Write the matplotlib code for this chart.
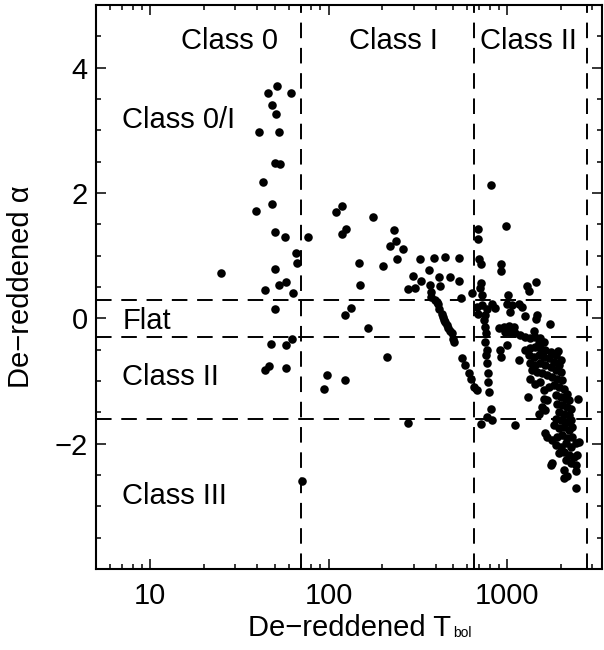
import matplotlib
matplotlib.use("Agg")
import matplotlib.pyplot as plt
from matplotlib.ticker import FixedLocator, FixedFormatter, LogLocator, NullFormatter, MultipleLocator

plt.rcParams['font.family'] = ['Liberation Sans', 'DejaVu Sans']

# ---------------- data ----------------
# Class 0 region
t_c0 = [25, 39, 41, 43, 44, 44, 46.5, 46, 48, 48, 47.5, 50, 50, 50, 51, 50, 51.5, 52.5,
        53.5, 53, 57, 57.5, 57.5, 57.5, 62, 62.5, 63.5, 66, 67, 71, 77]
a_c0 = [0.73, 1.71, 2.98, 2.17, 0.46, -0.82, -0.76, 3.60, 1.82, 3.41, -0.41, 1.38, 0.15, 0.78,
        3.26, 2.48, 3.71, 2.97, 2.47, 0.54, 1.30, 0.58, -0.43, -0.79, 3.59, -0.33, 0.40, 1.05,
        0.88, -2.60, 1.30]

# Class I region
t_c1 = [94, 98.5, 110, 119, 119, 126, 123, 123, 133, 148, 150, 166, 178, 203, 213, 221, 233,
        238, 241, 261, 277, 279, 296, 304, 325, 330, 365, 370, 389, 413, 419, 450, 480, 538,
        538, 552]
a_c1 = [-1.13, -0.91, 1.70, 1.79, 1.34, 1.42, 0.05, -0.98, 0.17, 0.88, 0.54, -0.15, 1.62, 0.83,
        -0.61, 1.15, 1.41, 1.23, 0.95, 1.11, -1.67, 0.47, 0.68, 0.48, 0.95, 0.60, 0.77, 0.54,
        0.96, 0.66, 0.52, 0.98, 0.66, 0.97, 0.60, 0.33]

# descending branch
t_br = [374, 377, 394, 403, 411, 417, 430, 439, 443, 448, 458, 468, 479, 489, 499, 507, 556,
        581, 612, 628, 656, 676]
a_br = [0.42, 0.34, 0.29, 0.26, 0.23, 0.15, 0.07, 0.02, -0.02, -0.06, -0.11, -0.16, -0.20,
        -0.24, -0.33, -0.37, -0.64, -0.75, -0.88, -0.96, -1.09, -1.15]

# upper points right of 650 K
t_up = [684, 684, 700, 714, 714, 708, 634, 721, 811, 989, 927, 927, 1009, 1291, 1321, 1459]
a_up = [1.43, 1.26, 0.95, 0.87, 0.56, 0.49, 0.41, 0.38, 2.12, 1.47, 0.87, 0.75, 0.38, 0.51,
        0.44, 0.58]

# Class II cluster
t_c2 = [676, 721, 770, 753, 691, 858, 821, 998, 1064, 1160, 1212, 1041, 1265, 1472, 1453, 1728,
        747, 753, 760, 753, 770, 760, 770, 780, 786, 793, 814, 770, 821, 715,
        915, 927, 1160, 998, 1102, 1304, 2506, 1933,
        895, 955, 1019, 1088, 976, 1041, 1111, 1186, 1265, 1350, 1441, 1410, 1537, 1605, 1504,
        1265, 1350, 1441, 1537, 1640, 1750, 1867, 1993, 1321, 1410, 1504, 1605, 1713, 1827,
        1950, 1350, 1441, 1537, 1640, 1750, 1867, 1993, 1380, 1472, 1571, 1676, 1788, 1908,
        2036, 1350, 1441, 1537, 1605, 1713, 1827, 1950, 2081, 2173,
        1605, 1676, 1571, 1640, 1504, 1867, 1993, 2126, 2220, 1908, 2036, 2173, 2269, 1950,
        2081, 2220, 1867, 1993, 2126, 2269, 1827, 1950, 2081, 2220, 2318, 1640, 1676, 1788,
        1908, 2036, 2173, 2318, 1867, 1993, 2126, 2269, 2420, 2528, 1950, 2081, 2220, 2368,
        2473, 2126, 2269, 2420, 1788, 1750, 2081, 2173, 2081, 2441, 2420]
a_c2 = [0.18, 0.21, 0.15, 0.05, 0.07, 0.17, 0.23, 0.23, 0.21, 0.23, 0.18, 0.10, 0.03, 0.06, -0.01, -0.09,
        -0.03, -0.14, -0.24, -0.38, -0.51, -0.59, -0.72, -0.88, -1.01, -1.17, -1.44, -1.57, -1.62, -1.69,
        -0.51, -0.62, -0.67, -0.43, -1.70, -1.26, -1.28, -0.52,
        -0.16, -0.14, -0.13, -0.14, -0.22, -0.22, -0.24, -0.27, -0.30, -0.31, -0.29, -0.20, -0.32, -0.38, -0.40,
        -0.51, -0.48, -0.46, -0.48, -0.51, -0.54, -0.59, -0.67, -0.59, -0.62, -0.59, -0.62, -0.64, -0.69,
        -0.75, -0.72, -0.75, -0.72, -0.75, -0.77, -0.83, -0.85, -0.83, -0.85, -0.88, -0.91, -0.93, -0.96,
        -0.99, -0.96, -1.04, -1.01, -1.15, -1.09, -1.07, -1.09, -1.12, -1.20,
        -1.28, -1.30, -1.41, -1.46, -1.52, -1.22, -1.25, -1.28, -1.30, -1.36, -1.38, -1.41, -1.44, -1.49,
        -1.52, -1.54, -1.60, -1.62, -1.65, -1.62, -1.70, -1.75, -1.73, -1.78, -1.73, -1.83, -1.89, -1.94,
        -1.89, -1.86, -1.91, -1.89, -2.02, -2.05, -1.99, -2.05, -1.99, -1.97, -2.15, -2.13, -2.18, -2.21,
        -2.18, -2.26, -2.31, -2.34, -2.31, -2.34, -2.42, -2.52, -2.55, -2.71, -2.44]

tbol = t_c0 + t_c1 + t_br + t_up + t_c2
alpha = a_c0 + a_c1 + a_br + a_up + a_c2

# class boundaries
tbol_bounds = [70, 650, 2800]
alpha_bounds = [0.3, -0.3, -1.6]

x_ticks = [10, 100, 1000]
x_ticklabels = ['10', '100', '1000']
y_ticks = [-2, 0, 2, 4]
y_ticklabels = ['\u22122', '0', '2', '4']

top_labels = ['Class 0', 'Class I', 'Class II']
top_label_t = [28, 230, 1320]
side_labels = ['Class 0/I', 'Flat', 'Class II', 'Class III']
side_label_a = [3.16, -0.05, -0.94, -2.84]

# ---------------- plot ----------------
fig = plt.figure(figsize=(6.04, 6.5), dpi=100)
ax = fig.add_axes([0.1593, 0.1246, 0.8374, 0.8677])

ax.set_xscale('log')
ax.set_xlim(5, 3400)
ax.set_ylim(-4, 5)

dash = (0, (8, 5))
for tb in tbol_bounds:
    ax.axvline(tb, color='black', lw=1.4, ls=dash, zorder=1)
for ab in alpha_bounds:
    ax.axhline(ab, color='black', lw=1.4, ls=dash, zorder=1)

ax.scatter(tbol, alpha, s=38, c='black', linewidths=0, zorder=3)

fs = 21
for lab, t in zip(top_labels, top_label_t):
    ax.text(t, 4.42, lab, ha='center', va='center', fontsize=fs)
for lab, a in zip(side_labels, side_label_a):
    ax.text(7.0, a, lab, ha='left', va='center', fontsize=fs)

ax.xaxis.set_major_locator(FixedLocator(x_ticks))
ax.xaxis.set_major_formatter(FixedFormatter(x_ticklabels))
ax.xaxis.set_minor_locator(LogLocator(base=10, subs=range(2, 10)))
ax.xaxis.set_minor_formatter(NullFormatter())
ax.yaxis.set_major_locator(FixedLocator(y_ticks))
ax.yaxis.set_major_formatter(FixedFormatter(y_ticklabels))
ax.yaxis.set_minor_locator(MultipleLocator(0.5))

ax.tick_params(which='both', direction='in', top=True, right=True, width=1.1)
ax.tick_params(which='major', length=7.2, labelsize=fs)
ax.tick_params(which='minor', length=3.6)
ax.tick_params(axis='x', which='major', pad=9)
ax.tick_params(axis='y', which='major', pad=6)

for sp in ax.spines.values():
    sp.set_linewidth(1.5)

ax.set_xlabel('De\u2212reddened T', fontsize=fs, labelpad=3)
ax.set_ylabel('De\u2212reddened \u03b1', fontsize=fs, labelpad=14)
ax.annotate('bol', xy=(1.0, 0.0), xycoords=ax.xaxis.label, xytext=(2, 1),
            textcoords='offset points', ha='left', va='bottom', fontsize=10)

fig.savefig('out.png', dpi=100)
